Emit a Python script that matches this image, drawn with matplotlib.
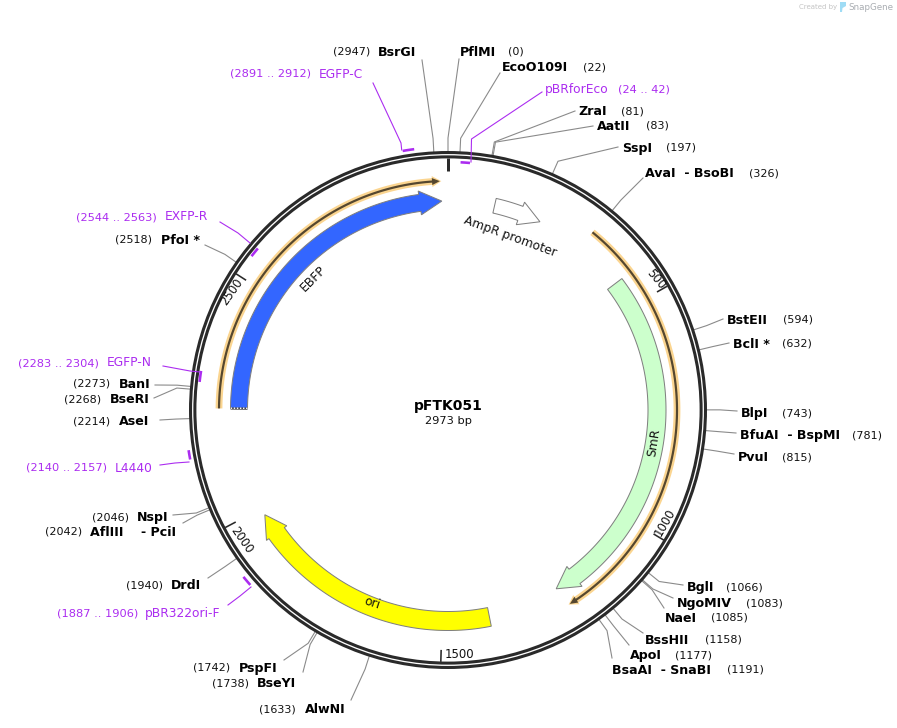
import numpy as np
import matplotlib
matplotlib.use('Agg')
import matplotlib.pyplot as plt
from matplotlib.patches import Circle, Polygon

TOTAL_BP = 2973
PLASMID = 'pFTK051'

# restriction sites
site_names = ['PflMI', 'EcoO109I', 'ZraI', 'AatII', 'SspI', 'AvaI  - BsoBI', 'BstEII', 'BclI *',
              'BlpI', 'BfuAI  - BspMI', 'PvuI', 'BglI', 'NgoMIV', 'NaeI', 'BssHII', 'ApoI',
              'BsaAI  - SnaBI', 'AlwNI', 'BseYI', 'PspFI', 'DrdI', 'AflIII    - PciI', 'NspI',
              'AseI', 'BseRI', 'BanI', 'PfoI *', 'BsrGI']
site_bp = [0, 22, 81, 83, 197, 326, 594, 632, 743, 781, 815, 1066, 1083, 1085, 1158, 1177,
           1191, 1633, 1738, 1742, 1940, 2042, 2046, 2214, 2268, 2273, 2518, 2947]

# primers
primer_names = ['pBRforEco', 'EGFP-C', 'EXFP-R', 'EGFP-N', 'L4440', 'pBR322ori-F']
primer_start = [24, 2891, 2544, 2283, 2140, 1887]
primer_end = [42, 2912, 2563, 2304, 2157, 1906]

# features: directional arrows
feature_names = ['AmpR promoter', 'SmR', 'ori', 'EBFP']
feature_start = [106, 437, 1393, 2233]
feature_end = [215, 1229, 1984, 2959]
feature_colors = ['white', '#ccffcc', '#ffff00', '#3366ff']

# highlighted orange strands
strand_start = [323, 2233]
strand_end = [1221, 2956]

tick_bp = [500, 1000, 1500, 2000, 2500]

# layout, pixels: name x, number x, text y, leader end x, leader end y
site_layout = [
    (460, 508, 52, 459, 59), (502, 583, 67, 500, 73), (578, 621, 111, 575, 111),
    (597, 646, 126, 593, 126), (622, 666, 148, 618, 147), (645, 749, 173, 643, 178),
    (727, 783, 320, 723, 319), (733, 782, 344, 729, 343), (741, 782, 413, 737, 411),
    (740, 852, 435, 736, 433), (738, 782, 457, 734, 454), (687, 726, 587, 683, 585),
    (677, 746, 603, 673, 598), (665, 711, 618, 664, 608), (645, 705, 640, 643, 633),
    (630, 675, 655, 629, 645), (612, 727, 670, 612, 658), (305, 259, 709, 351, 700),
    (257, 212, 683, 303, 672), (239, 193, 668, 284, 660), (171, 126, 585, 208, 578),
    (90, 45, 532, 183, 523), (137, 92, 517, 173, 515), (119, 73, 421, 160, 420),
    (110, 64, 399, 154, 398), (119, 73, 384, 155, 385), (161, 115, 240, 205, 245),
    (378, 333, 52, 422, 60),
]
# name x, range x, text y, leader start, elbow, leader end, strand radius
primer_layout = [
    (545, 618, 89, (542, 92), (471.5, 139), (471, 162), 248),
    (319, 230, 74, (373, 83), (401, 143), (401.7, 150), 263),
    (165, 76, 217, (220, 222), (238, 233), (250, 243), 249.5),
    (107, 18, 363, (163, 366), (190, 371), (200, 372), 250),
    (115, 26, 468, (160, 465), (175, 463), (189, 462), 262.5),
    (145, 57, 614, (228, 605), (240, 596), (251, 587), 264),
]
# head start bp, body half width, head half width, mid radius
feature_shape = [(167, 7.5, 12, 209.5), (1179, 9, 12.5, 209), (1935, 9.5, 12.5, 211), (2909, 8.5, 12, 209)]
feature_label = [(510, 237, -20), (654, 443, 81), (372, 603, -18), (313, 279, 45)]
tick_label = [(655.5, 279, -50), (665, 522, 60), (459, 655, 0), (241, 540, -55), (232, 292, 55)]

CX, CY = 448, 410
PURPLE = '#ab2cf0'
GREY = '#8a8a8a'
DARK = '#2a2a2a'
px = 0.72  # one pixel in points at dpi 100


def xy(bp, r):
    a = np.asarray(bp) / TOTAL_BP * 2 * np.pi
    return CX + r * np.sin(a), CY - r * np.cos(a)


def arc_arrow(start, head, tip, r, half, head_half):
    """Polygon of a clockwise arrow following the circle"""
    bps = np.linspace(start, head, 120)
    ox, oy = xy(bps, r + half)
    ix, iy = xy(bps[::-1], r - half)
    pts = list(zip(ox, oy))
    pts.append(xy(head, r + head_half))
    pts.append(xy(tip, r))
    pts.append(xy(head, r - head_half))
    pts += list(zip(ix, iy))
    return pts


fig = plt.figure(figsize=(8.97, 7.28), dpi=100)
ax = fig.add_axes([0, 0, 1, 1])
ax.set_xlim(0, 897)
ax.set_ylim(728, 0)
ax.axis('off')

# backbone
ax.add_patch(Circle((CX, CY), 255.3, fill=False, ec=DARK, lw=7.4 * px, zorder=3))
ax.add_patch(Circle((CX, CY), 255.3, fill=False, ec='white', lw=1.3 * px, zorder=3.1))

# ticks
x0, y0 = xy(0, 252)
x1, y1 = xy(0, 239)
ax.plot([x0, x1], [y0, y1], color=DARK, lw=3 * px, solid_capstyle='butt', zorder=2)
for bp, (tx, ty, rot) in zip(tick_bp, tick_label):
    x0, y0 = xy(bp, 252)
    x1, y1 = xy(bp, 240)
    ax.plot([x0, x1], [y0, y1], color=DARK, lw=1.6 * px, solid_capstyle='butt', zorder=2)
    ax.text(tx, ty, str(bp), rotation=rot, rotation_mode='anchor', ha='center', va='center',
            fontsize=8.5, color='#111111', zorder=6)

# orange strands
for s, e in zip(strand_start, strand_end):
    head = e - 16
    ax.add_patch(Polygon(arc_arrow(s, head, e + 3, 229, 3.4, 5.5), fc='#fbd590', ec='none', zorder=4))
    ax.add_patch(Polygon(arc_arrow(s, head, e, 229, 1.1, 3.5), fc='#55472f', ec='none', zorder=4.1))

# features
for name, s, e, col, shape, lab in zip(feature_names, feature_start, feature_end, feature_colors,
                                        feature_shape, feature_label):
    head, half, head_half, r = shape
    ax.add_patch(Polygon(arc_arrow(s, head, e, r, half, head_half), fc=col, ec='#7f7f7f',
                         lw=1 * px, joinstyle='miter', zorder=5))
    ax.text(lab[0], lab[1], name, rotation=lab[2], rotation_mode='anchor', ha='center', va='center',
            fontsize=8.8, color='#111111', zorder=6)

# dotted edge at the open end of EBFP
x0, y0 = xy(feature_start[3], feature_shape[3][3] - 8.5)
x1, y1 = xy(feature_start[3], feature_shape[3][3] + 8.5)
ax.plot([x0, x1], [y0, y1], color='#444444', lw=2.2 * px, solid_capstyle='butt', zorder=6)
ax.plot([x0, x1], [y0 - 0.3, y1 - 0.3], color='white', lw=1.4 * px, ls=(0, (1, 1.2)), zorder=6.1)

# sites
for name, bp, lay in zip(site_names, site_bp, site_layout):
    name_x, num_x, ty, ex, ey = lay
    rx, ry = xy(bp, 258)
    mx, my = xy(bp, 272)
    ax.plot([rx, mx, ex], [ry, my, ey], color=GREY, lw=1.1 * px, zorder=1)
    ax.text(name_x, ty + 0.7, name, fontsize=9.1, fontweight='bold', color='black', ha='left', va='center')
    ax.text(num_x, ty, f'({bp})', fontsize=8, color='#111111', ha='left', va='center')

# primers
for name, s, e, lay in zip(primer_names, primer_start, primer_end, primer_layout):
    name_x, num_x, ty, p0, p1, p2, r = lay
    bps = np.linspace(s, e, 12)
    ax.plot(*xy(bps, r), color=PURPLE, lw=2.6 * px, solid_capstyle='butt', zorder=4)
    ax.plot([p0[0], p1[0], p2[0]], [p0[1], p1[1], p2[1]], color=PURPLE, lw=1.1 * px, zorder=3.5)
    ax.text(name_x, ty, name, fontsize=8.8, color=PURPLE, ha='left', va='center')
    ax.text(num_x, ty, f'({s} .. {e})', fontsize=8.2, color=PURPLE, ha='left', va='center')

# centre title
ax.text(448.5, 406, PLASMID, fontsize=10, fontweight='bold', ha='center', va='center', color='black')
ax.text(448.5, 421, f'{TOTAL_BP} bp', fontsize=8.2, ha='center', va='center', color='#111111')

# watermark
ax.text(799, 7.5, 'Created by', fontsize=5, color='#c4c4c4', ha='left', va='center')
ax.add_patch(Polygon([(840, 2), (846, 2), (846, 6), (842.5, 8), (842, 12), (840, 12)], fc='#9fdcf5', ec='none'))
ax.text(848, 7.5, 'SnapGene', fontsize=6.3, color='#a9adb2', ha='left', va='center')

fig.savefig('out.png', dpi=100)
